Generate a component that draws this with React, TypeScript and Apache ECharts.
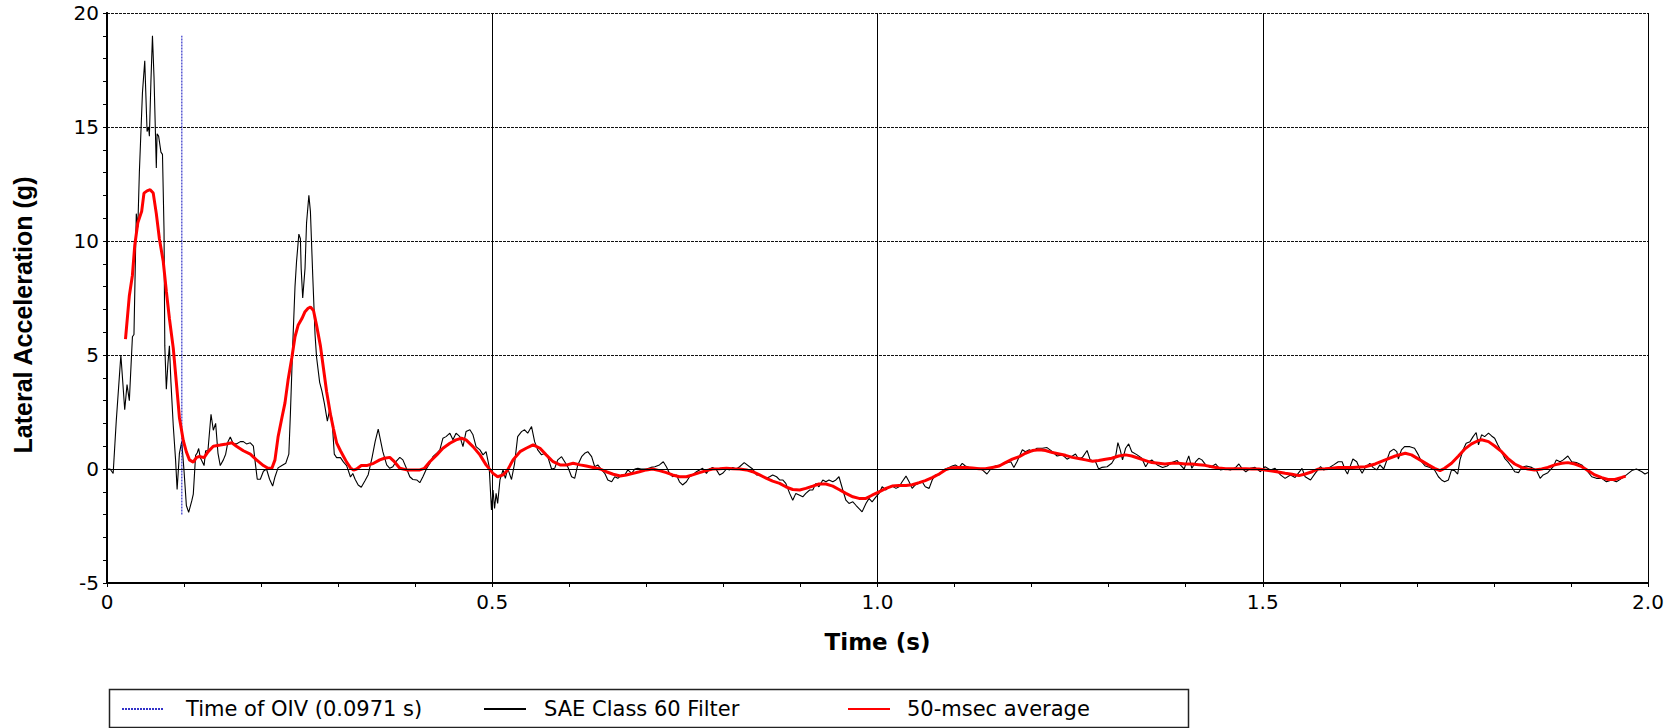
import React, { useEffect, useRef } from "react";
import * as echarts from "echarts";

// Lateral acceleration trace, SAE Class 60 filtered (time s, accel g)
const sae60Impact: [number, number][] = [
  [0, 0], [0.004, 0], [0.008, -0.2], [0.012, 2.1], [0.018, 5.0], [0.023, 2.6], [0.026, 3.7], [0.029, 3.0],
  [0.033, 5.8], [0.035, 5.9], [0.038, 11.2], [0.04, 10.6], [0.042, 13.0], [0.046, 16.5], [0.049, 17.9],
  [0.052, 14.8], [0.054, 15.0], [0.055, 14.6], [0.057, 17.0], [0.059, 19.0], [0.061, 17.2], [0.064, 13.2],
  [0.065, 14.7], [0.067, 14.6], [0.07, 13.9], [0.072, 13.8], [0.074, 10.5], [0.075, 5.4], [0.077, 3.5],
  [0.079, 4.6], [0.081, 5.4], [0.083, 3.8], [0.086, 1.9], [0.089, 0.4], [0.091, -0.9], [0.094, 0.7],
  [0.097, 1.2], [0.1, -0.1], [0.103, -1.6], [0.106, -1.9], [0.11, -1.4], [0.112, -1.1], [0.115, 0.6],
  [0.117, 0.7], [0.119, 0.9], [0.121, 0.5], [0.124, 0.3], [0.126, 0.15], [0.128, 0.8], [0.131, 0.8],
  [0.135, 2.4], [0.138, 1.7], [0.141, 2.0], [0.144, 0.7], [0.147, 0.15], [0.151, 0.4], [0.154, 0.65],
  [0.157, 1.2], [0.16, 1.4], [0.164, 1.1], [0.168, 1.1], [0.173, 1.2], [0.177, 1.2], [0.181, 1.1],
  [0.186, 1.15], [0.19, 1.0], [0.192, 0.4], [0.195, -0.45], [0.199, -0.45], [0.203, -0.1], [0.207, 0],
  [0.211, -0.45], [0.215, -0.75], [0.218, -0.35], [0.222, 0.05], [0.227, 0.15], [0.232, 0.25], [0.236, 0.65],
  [0.238, 2.4], [0.241, 5.4], [0.244, 8.0], [0.246, 9.1], [0.249, 10.3], [0.251, 10.1], [0.252, 8.8],
  [0.254, 7.5], [0.257, 8.8], [0.259, 10.8], [0.262, 12.0], [0.264, 11.3], [0.267, 8.5], [0.27, 5.9],
  [0.272, 4.9], [0.276, 3.8], [0.279, 3.4], [0.282, 2.9], [0.286, 2.1], [0.289, 2.6], [0.292, 2.2],
  [0.295, 0.65], [0.298, 0.5], [0.303, 0.5], [0.307, 0.3], [0.311, 0.15], [0.316, -0.35], [0.319, -0.2],
  [0.322, -0.45], [0.326, -0.7], [0.33, -0.8], [0.335, -0.5], [0.339, -0.25], [0.344, 0.5], [0.348, 1.2],
  [0.352, 1.75],
];

const sae60Mid: [number, number][] = [
  [0.358, 0.76], [0.363, 0.18], [0.367, 0.03], [0.371, 0.1], [0.375, 0.32], [0.38, 0.51], [0.384, 0.4],
  [0.389, 0], [0.393, -0.34], [0.397, -0.46], [0.402, -0.48], [0.406, -0.6], [0.41, -0.34], [0.415, 0.03],
  [0.419, 0.25], [0.423, 0.54], [0.428, 0.69], [0.432, 0.84], [0.436, 1.35], [0.44, 1.42], [0.445, 1.57],
  [0.449, 1.28], [0.453, 1.57], [0.458, 1.42], [0.462, 0.98], [0.466, 1.64], [0.471, 1.72], [0.475, 1.5],
  [0.479, 0.98], [0.484, 0.84], [0.488, 0.62], [0.492, 0.76], [0.496, 0.1], [0.499, -1.8], [0.501, -0.92],
  [0.503, -1.73], [0.505, -1.07], [0.507, -1.51], [0.51, -0.48], [0.514, -0.04], [0.517, -0.41],
  [0.52, 0.03], [0.525, -0.46], [0.529, 0.25], [0.533, 1.42], [0.538, 1.64], [0.542, 1.72], [0.546, 1.57],
  [0.551, 1.86], [0.555, 1.2], [0.559, 0.84], [0.564, 0.62], [0.568, 0.69], [0.572, 0.54], [0.577, 0],
  [0.581, 0.03], [0.585, 0.4], [0.59, 0.54], [0.594, 0.32], [0.598, 0.1], [0.603, -0.34], [0.607, -0.41],
  [0.611, 0.18], [0.616, 0.54], [0.62, 0.69], [0.624, 0.76], [0.629, 0.54], [0.633, 0.1], [0.637, 0.18],
  [0.642, -0.04], [0.646, -0.19], [0.65, -0.48], [0.655, -0.56], [0.659, -0.34], [0.663, -0.41],
  [0.668, -0.26], [0.672, -0.26], [0.676, -0.04], [0.681, -0.19], [0.685, 0], [0.689, 0.03], [0.693, 0],
  [0.7, 0], [0.706, 0.07], [0.711, 0.1], [0.717, 0.18], [0.722, 0.32], [0.726, 0.1], [0.73, -0.19],
  [0.734, -0.34], [0.739, -0.26], [0.743, -0.56], [0.747, -0.7], [0.752, -0.56], [0.756, -0.34],
  [0.76, -0.26], [0.765, -0.12], [0.769, -0.04], [0.773, 0.03], [0.778, -0.19], [0.782, 0], [0.786, 0.07],
  [0.791, -0.04], [0.795, -0.26], [0.799, -0.19], [0.804, 0], [0.808, -0.04], [0.812, 0.07], [0.817, 0],
  [0.821, 0.1], [0.827, 0.28], [0.834, 0.1], [0.838, 0], [0.843, -0.26], [0.847, -0.26], [0.851, -0.34],
  [0.856, -0.41], [0.86, -0.34], [0.864, -0.26], [0.869, -0.34], [0.873, -0.48], [0.877, -0.48],
  [0.881, -0.63], [0.886, -1.07], [0.89, -1.37], [0.894, -1.07], [0.899, -1.15], [0.903, -1.22],
  [0.907, -1.07], [0.912, -0.92], [0.916, -0.92], [0.92, -0.63], [0.924, -0.78], [0.929, -0.48],
  [0.933, -0.56], [0.937, -0.48], [0.942, -0.56], [0.946, -0.48], [0.95, -0.34], [0.955, -0.92],
  [0.959, -1.37], [0.963, -1.51], [0.968, -1.44], [0.972, -1.59],
];

const sae60Late: [number, number][] = [
  [0.98, -1.88], [0.985, -1.51], [0.989, -1.29], [0.993, -1.44], [0.998, -1.22], [1.002, -1.07],
  [1.006, -0.78], [1.011, -0.92], [1.015, -0.78], [1.019, -0.75], [1.024, -0.85], [1.028, -0.78],
  [1.032, -0.56], [1.037, -0.31], [1.041, -0.56], [1.045, -0.85], [1.049, -0.7], [1.054, -0.63],
  [1.058, -0.56], [1.062, -0.78], [1.067, -0.85], [1.071, -0.48], [1.075, -0.26], [1.08, -0.26],
  [1.084, -0.12], [1.088, 0], [1.093, 0.07], [1.097, 0.13], [1.101, 0.18], [1.106, 0.07], [1.11, 0.25],
  [1.114, 0.13], [1.119, 0.07], [1.123, 0.03], [1.127, 0], [1.132, 0.03], [1.136, -0.04], [1.142, -0.22],
  [1.147, 0], [1.153, 0.13], [1.16, 0.18], [1.166, 0.25], [1.173, 0.32], [1.177, 0.07], [1.181, 0.32],
  [1.188, 0.84], [1.192, 0.76], [1.197, 0.84], [1.201, 0.76], [1.207, 0.91], [1.214, 0.91], [1.22, 0.94],
  [1.227, 0.76], [1.233, 0.57], [1.24, 0.62], [1.246, 0.43], [1.253, 0.57], [1.257, 0.66], [1.261, 0.43],
  [1.266, 0.51], [1.272, 0.81], [1.276, 0.4], [1.283, 0.32], [1.287, 0], [1.291, 0.07], [1.298, 0.1],
  [1.304, 0.25], [1.309, 0.54], [1.312, 1.16], [1.315, 0.84], [1.318, 0.4], [1.322, 0.91], [1.326, 1.1],
  [1.33, 0.76], [1.337, 0.62], [1.343, 0.47], [1.348, 0.1], [1.352, 0.32], [1.356, 0.4], [1.363, 0.18],
  [1.37, 0.07], [1.376, 0.13], [1.382, 0.28], [1.389, 0.37], [1.393, 0.18], [1.398, 0], [1.402, 0.4],
  [1.404, 0.57], [1.408, 0.03], [1.413, 0.32], [1.417, 0.47], [1.421, 0.4], [1.426, 0.18], [1.432, 0.07],
  [1.439, 0.22], [1.445, -0.04], [1.452, 0], [1.458, -0.04], [1.465, 0.07], [1.469, 0.22], [1.473, 0.03],
  [1.478, -0.12], [1.484, 0.03], [1.49, 0.07], [1.497, -0.12], [1.503, 0.1], [1.51, -0.04], [1.516, 0.03],
  [1.523, -0.26], [1.529, -0.41], [1.536, -0.26], [1.542, -0.37], [1.551, 0.03], [1.555, -0.34],
  [1.562, -0.48], [1.568, -0.19], [1.575, 0.1], [1.579, -0.04], [1.585, 0.03], [1.592, 0.18],
];

const sae60End: [number, number][] = [
  [1.598, 0.32], [1.603, 0.32], [1.607, -0.04], [1.61, -0.22], [1.613, 0.07], [1.617, 0.44], [1.622, 0.32],
  [1.626, 0], [1.629, -0.19], [1.633, 0.07], [1.639, 0.25], [1.643, 0.07], [1.648, -0.04], [1.652, 0.18],
  [1.657, 0], [1.665, 0.76], [1.67, 0.87], [1.674, 0.76], [1.676, 0.44], [1.68, 0.84], [1.684, 0.98],
  [1.691, 0.98], [1.697, 0.91], [1.702, 0.62], [1.706, 0.32], [1.711, 0.13], [1.717, 0.07], [1.723, -0.04],
  [1.728, -0.34], [1.732, -0.48], [1.736, -0.56], [1.741, -0.48], [1.745, -0.04], [1.749, -0.07],
  [1.753, -0.22], [1.756, 0.4], [1.76, 0.84], [1.764, 1.13], [1.769, 1.2], [1.773, 1.42], [1.777, 1.6],
  [1.78, 1.06], [1.784, 1.5], [1.788, 1.42], [1.793, 1.57], [1.797, 1.45], [1.801, 1.35], [1.805, 1.06],
  [1.81, 0.76], [1.814, 0.47], [1.818, 0.32], [1.823, 0.1], [1.827, -0.12], [1.832, -0.16], [1.836, 0.07],
  [1.842, 0.13], [1.849, 0.07], [1.855, -0.04], [1.86, -0.41], [1.864, -0.26], [1.87, -0.16], [1.877, 0.1],
  [1.881, 0.4], [1.886, 0.32], [1.89, 0.4], [1.896, 0.57], [1.901, 0.32], [1.907, 0.28], [1.914, 0.18],
  [1.92, -0.04], [1.927, -0.34], [1.933, -0.41], [1.94, -0.41], [1.946, -0.56], [1.953, -0.48],
  [1.959, -0.56], [1.966, -0.41], [1.972, -0.26], [1.979, -0.07], [1.985, 0], [1.992, -0.12],
  [1.996, -0.22], [2.0, -0.15],
];

// 50-msec moving average of the same trace
const avgImpact: [number, number][] = [
  [0.024, 5.7], [0.029, 7.6], [0.033, 8.5], [0.036, 9.8], [0.04, 10.8], [0.045, 11.3], [0.048, 12.1],
  [0.052, 12.2], [0.056, 12.25], [0.06, 12.1], [0.064, 11.2], [0.068, 10.1], [0.073, 9.1], [0.077, 7.8],
  [0.081, 6.6], [0.086, 5.3], [0.09, 3.8], [0.094, 2.25], [0.099, 1.25], [0.103, 0.75], [0.107, 0.4],
  [0.112, 0.3], [0.116, 0.5], [0.12, 0.55], [0.126, 0.5], [0.131, 0.75], [0.138, 1.0], [0.147, 1.05],
  [0.155, 1.1], [0.162, 1.15], [0.168, 1.0], [0.177, 0.8], [0.186, 0.65], [0.194, 0.4], [0.203, 0.15],
  [0.209, 0.03], [0.214, 0.03], [0.218, 0.4], [0.222, 1.4], [0.227, 2.25], [0.231, 2.9], [0.235, 3.9],
  [0.24, 4.9], [0.244, 5.8], [0.248, 6.3], [0.253, 6.6], [0.257, 6.9], [0.261, 7.05], [0.264, 7.1],
  [0.268, 6.95], [0.272, 6.3], [0.277, 5.4], [0.281, 4.4], [0.285, 3.4], [0.29, 2.4], [0.294, 1.75],
  [0.298, 1.15], [0.303, 0.8], [0.307, 0.55], [0.311, 0.3], [0.316, 0.05], [0.32, -0.05], [0.324, 0],
  [0.33, 0.15], [0.337, 0.15], [0.346, 0.25],
];

const avgMid: [number, number][] = [
  [0.354, 0.4], [0.36, 0.47], [0.367, 0.51], [0.373, 0.32], [0.38, 0.03], [0.389, -0.04], [0.397, -0.04],
  [0.406, -0.04], [0.412, 0.03], [0.419, 0.32], [0.428, 0.62], [0.436, 0.91], [0.445, 1.13], [0.453, 1.28],
  [0.46, 1.35], [0.466, 1.28], [0.475, 0.98], [0.484, 0.62], [0.492, 0.18], [0.501, -0.19], [0.507, -0.34],
  [0.514, -0.26], [0.52, -0.04], [0.527, 0.4], [0.536, 0.76], [0.544, 0.91], [0.553, 1.06], [0.562, 0.91],
  [0.57, 0.62], [0.579, 0.32], [0.588, 0.18], [0.597, 0.18], [0.605, 0.25], [0.614, 0.18], [0.622, 0.13],
  [0.631, 0.07], [0.64, 0], [0.648, -0.12], [0.657, -0.23], [0.666, -0.31], [0.674, -0.26], [0.683, -0.19],
  [0.691, -0.12], [0.7, -0.04], [0.708, 0], [0.717, -0.07], [0.726, -0.16], [0.734, -0.26], [0.743, -0.34],
  [0.752, -0.34], [0.76, -0.26], [0.769, -0.16], [0.778, -0.07], [0.786, 0], [0.795, 0.01], [0.804, 0.03],
  [0.812, 0.01], [0.821, 0], [0.83, -0.04], [0.838, -0.12], [0.847, -0.26], [0.856, -0.41], [0.864, -0.53],
  [0.873, -0.63], [0.881, -0.78], [0.89, -0.9], [0.899, -0.92], [0.907, -0.85], [0.916, -0.75],
  [0.924, -0.66], [0.933, -0.66], [0.942, -0.75], [0.95, -0.9], [0.959, -1.07], [0.968, -1.22],
  [0.976, -1.29],
];

const avgLate: [number, number][] = [
  [0.985, -1.29], [0.993, -1.15], [1.002, -1.0], [1.011, -0.85], [1.019, -0.75], [1.028, -0.72],
  [1.037, -0.72], [1.045, -0.69], [1.054, -0.6], [1.062, -0.51], [1.071, -0.38], [1.08, -0.22],
  [1.088, -0.04], [1.097, 0.06], [1.106, 0.07], [1.114, 0.07], [1.123, 0.04], [1.132, 0.01], [1.14, 0.01],
  [1.149, 0.07], [1.158, 0.13], [1.166, 0.28], [1.175, 0.43], [1.184, 0.54], [1.192, 0.69], [1.201, 0.81],
  [1.21, 0.84], [1.218, 0.81], [1.227, 0.72], [1.236, 0.66], [1.244, 0.6], [1.253, 0.51], [1.261, 0.46],
  [1.27, 0.4], [1.279, 0.34], [1.287, 0.37], [1.296, 0.43], [1.304, 0.47], [1.313, 0.57], [1.322, 0.62],
  [1.33, 0.57], [1.339, 0.47], [1.348, 0.37], [1.356, 0.28], [1.365, 0.25], [1.373, 0.22], [1.382, 0.25],
  [1.391, 0.25], [1.399, 0.22], [1.408, 0.22], [1.417, 0.19], [1.425, 0.16], [1.434, 0.1], [1.443, 0.04],
  [1.452, 0.01], [1.46, 0.01], [1.469, 0.01], [1.478, 0.01], [1.486, 0], [1.495, 0], [1.503, -0.04],
  [1.512, -0.09], [1.52, -0.13], [1.529, -0.19], [1.538, -0.23], [1.547, -0.29], [1.555, -0.22],
  [1.564, -0.12], [1.572, 0], [1.581, 0.01], [1.59, 0.03],
];

const avgEnd: [number, number][] = [
  [1.598, 0.07], [1.616, 0.07], [1.633, 0.1], [1.646, 0.22], [1.659, 0.4], [1.672, 0.57], [1.685, 0.69],
  [1.693, 0.62], [1.704, 0.4], [1.715, 0.18], [1.723, 0.03], [1.73, -0.07], [1.736, 0.03], [1.745, 0.25],
  [1.754, 0.57], [1.762, 0.87], [1.771, 1.1], [1.78, 1.25], [1.784, 1.28], [1.793, 1.2], [1.801, 1.01],
  [1.81, 0.76], [1.818, 0.47], [1.827, 0.22], [1.836, 0.07], [1.844, 0], [1.853, -0.04], [1.862, 0],
  [1.87, 0.07], [1.879, 0.18], [1.888, 0.25], [1.896, 0.28], [1.905, 0.22], [1.914, 0.1], [1.922, -0.07],
  [1.931, -0.26], [1.94, -0.38], [1.948, -0.46], [1.957, -0.46], [1.966, -0.37], [1.971, -0.31],
];

// Occupant impact velocity time and the vertical extent of its marker line
const oivTime = 0.0971;
const oivSpan = [-2, 19];

const xTicks = { min: 0, max: 2, interval: 0.5 };
const yTicks = { min: -5, max: 20, interval: 5 };

const seriesNames = ["Time of OIV (0.0971 s)", "SAE Class 60 Filter", "50-msec average"];

const labelFont = "DejaVu Sans";

export default function App() {
  const ref = useRef<HTMLDivElement>(null);

  useEffect(() => {
    if (!ref.current) return;
    const chart = echarts.init(ref.current, null, { renderer: "svg" });

    const sae60 = [...sae60Impact, ...sae60Mid, ...sae60Late, ...sae60End];
    const avg50 = [...avgImpact, ...avgMid, ...avgLate, ...avgEnd];
    const oivLine = oivSpan.map((g) => [oivTime, g]);

    // legend swatches are plain line segments, with the point marker hidden
    const legendBase = {
      top: 698,
      padding: 0,
      itemWidth: 42,
      itemHeight: 14,
      selectedMode: false,
      orient: "horizontal",
      itemStyle: { opacity: 0 },
      lineStyle: { opacity: 1 },
    };
    const legendText = (padLeft: number) => ({
      fontFamily: labelFont,
      fontSize: 21,
      color: "#000",
      lineHeight: 22,
      padding: [0, 0, 0, padLeft],
    });

    chart.setOption({
      animation: false,
      backgroundColor: "#fff",
      grid: { left: 107, right: 27, top: 13, bottom: 145, containLabel: false },
      xAxis: {
        type: "value",
        min: xTicks.min,
        max: xTicks.max,
        interval: xTicks.interval,
        name: "Time (s)",
        nameLocation: "middle",
        nameGap: 47,
        nameTextStyle: { fontFamily: labelFont, fontWeight: "bold", fontSize: 23, color: "#000" },
        axisLine: { show: true, onZero: false, lineStyle: { color: "#000", width: 2 } },
        axisTick: { show: true, length: 4, lineStyle: { color: "#000" } },
        minorTick: { show: true, splitNumber: 5, length: 4, lineStyle: { color: "#000" } },
        axisLabel: {
          margin: 9,
          fontFamily: labelFont,
          fontSize: 20,
          color: "#000",
          formatter: (v: number) => (v === 0 ? "0" : v.toFixed(1)),
        },
        splitLine: { show: true, lineStyle: { color: "#000", width: 1, type: "solid" } },
      },
      yAxis: [
        {
          type: "value",
          min: yTicks.min,
          max: yTicks.max,
          interval: yTicks.interval,
          name: "Lateral Acceleration (g)",
          nameLocation: "middle",
          nameGap: 72,
          nameRotate: 90,
          nameTextStyle: {
            fontFamily: "Liberation Sans",
            fontWeight: "bold",
            fontSize: 25,
            color: "#000",
            padding: [0, 34, 0, 0],
          },
          axisLine: { show: true, onZero: false, lineStyle: { color: "#000", width: 2 } },
          axisTick: { show: true, length: 4, lineStyle: { color: "#000" } },
          minorTick: { show: true, splitNumber: 5, length: 4, lineStyle: { color: "#000" } },
          axisLabel: { margin: 8, fontFamily: labelFont, fontSize: 20, color: "#000" },
          splitLine: { show: true, lineStyle: { color: "#111", width: 1.2, type: [3, 1] } },
        },
        {
          type: "value",
          position: "right",
          min: yTicks.min,
          max: yTicks.max,
          interval: yTicks.interval,
          axisLine: { show: true, lineStyle: { color: "#000", width: 2 } },
          axisTick: { show: false },
          axisLabel: { show: false },
          splitLine: { show: false },
        },
      ],
      legend: [
        { ...legendBase, left: 121, data: [seriesNames[0]], textStyle: legendText(17) },
        { ...legendBase, left: 483, data: [seriesNames[1]], textStyle: legendText(13) },
        { ...legendBase, left: 847, data: [seriesNames[2]], textStyle: legendText(12) },
      ],
      graphic: [
        {
          type: "rect",
          left: 107,
          top: 687,
          shape: { width: 1079, height: 38 },
          style: { fill: "none", stroke: "#222", lineWidth: 1.5 },
          silent: true,
        },
      ],
      series: [
        {
          name: seriesNames[0],
          type: "line",
          data: oivLine,
          symbol: "none",
          lineStyle: { color: "#3232c8", width: 1.2, type: [2, 1] },
          itemStyle: { color: "#3232c8" },
          z: 3,
        },
        {
          name: seriesNames[1],
          type: "line",
          data: sae60,
          symbol: "none",
          lineStyle: { color: "#000", width: 1.1 },
          itemStyle: { color: "#000" },
          z: 2,
          markLine: {
            silent: true,
            symbol: "none",
            label: { show: false },
            lineStyle: { color: "#000", width: 1, type: "solid" },
            data: [{ yAxis: 0 }],
          },
        },
        {
          name: seriesNames[2],
          type: "line",
          data: avg50,
          symbol: "none",
          lineStyle: { color: "#ff0000", width: 3 },
          itemStyle: { color: "#ff0000" },
          z: 4,
        },
      ],
    });

    return () => chart.dispose();
  }, []);

  return (
    <div
      ref={ref}
      style={{ position: "absolute", left: 0, top: 0, width: 1675, height: 728, background: "#fff" }}
    />
  );
}
